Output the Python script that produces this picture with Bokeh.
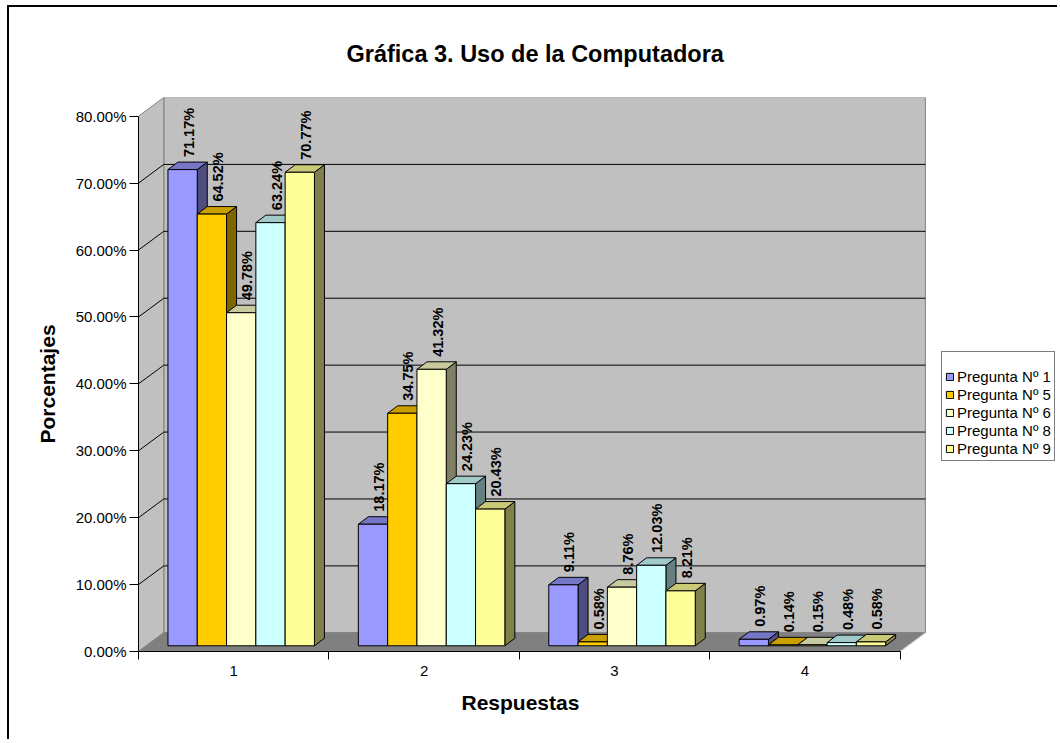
import math
from bokeh.plotting import figure
from bokeh.models import (Range1d, FixedTicker, Legend, LegendItem, ColumnDataSource, Title)
from bokeh.core.properties import value
from bokeh.embed import file_html
from bokeh.resources import INLINE

# ---------------- data ----------------
categories = ["1", "2", "3", "4"]
series_names = ["Pregunta Nº 1", "Pregunta Nº 5", "Pregunta Nº 6", "Pregunta Nº 8", "Pregunta Nº 9"]
p1 = [71.17, 18.17, 9.11, 0.97]
p5 = [64.52, 34.75, 0.58, 0.14]
p6 = [49.78, 41.32, 8.76, 0.15]
p8 = [63.24, 24.23, 12.03, 0.48]
p9 = [70.77, 20.43, 8.21, 0.58]
series_values = [p1, p5, p6, p8, p9]
y_ticks = [0, 10, 20, 30, 40, 50, 60, 70, 80]
y_tick_labels = ["0.00%", "10.00%", "20.00%", "30.00%", "40.00%", "50.00%", "60.00%", "70.00%", "80.00%"]

title_text = "Gráfica 3. Uso de la Computadora"
x_title = "Respuestas"
y_title = "Porcentajes"

# ---------------- style ----------------
front_colors = ["#9999FF", "#FFCC00", "#FFFFCC", "#CCFFFF", "#FFFF99"]
top_colors = ["#7676C6", "#C9A000", "#C9C9A0", "#A0C9C9", "#C9C978"]
side_colors = ["#4D4D80", "#806600", "#808066", "#668080", "#80804D"]
FONT = "Liberation Sans"

PX_X = 190.4      # px per category
PX_Y = 6.6875     # px per percent
DX = 25.3 / PX_X  # wall depth
DY = 18.7 / PX_Y
FX = 7.5 / PX_X   # bar front depth offset
FY = 5.7 / PX_Y
BX = 10.0 / PX_X  # bar depth
BY = 7.5 / PX_Y
W = 29.3 / PX_X   # bar width
NS = len(series_values)
GAP = (1 - NS * W) / 2
NC = len(categories)
YMAX = y_ticks[-1]

CANVAS_W, CANVAS_H = 1050, 734
LEFT, TOP, BOTTOM = 129, 90, 90
FRAME_W = CANVAS_W - LEFT          # frame runs to the right edge (room for legend)
X_END = FRAME_W / PX_X

p = figure(width=CANVAS_W, height=CANVAS_H, output_backend="svg", toolbar_location=None,
           x_range=Range1d(0, X_END), y_range=Range1d(0, YMAX + DY),
           min_border_left=LEFT, min_border_right=0, min_border_top=TOP, min_border_bottom=BOTTOM)
p.styles = {"border-left": "2px solid black", "border-top": "2px solid black",
            "margin-left": "7px", "margin-top": "5px"}
p.background_fill_color = "white"
p.border_fill_color = "white"
p.outline_line_color = None
p.xgrid.visible = False
p.ygrid.visible = False

# title
p.title.text = title_text
p.title.align = "left"
p.title.offset = 208
p.title.text_font = FONT
p.title.text_font_size = "23.5px"
p.title.text_font_style = "bold"
p.title.text_color = "black"
p.title.standoff = 62

# walls and floor
p.patch([DX, NC + DX, NC + DX, DX], [DY, DY, YMAX + DY, YMAX + DY],
        fill_color="#C0C0C0", line_color="#808080", line_width=1)
p.patch([0, 0, DX, DX], [0, YMAX, YMAX + DY, DY],
        fill_color="#C0C0C0", line_color="#808080", line_width=1)
p.patch([0, NC, NC + DX, DX], [0, 0, DY, DY],
        fill_color="#808080", line_color="#808080", line_width=1)
p.line([NC, NC + DX], [0, DY], line_color="#E0E0E0", line_width=1)

# gridlines on walls
grid_vals = [t for t in y_ticks if 0 < t < YMAX]
p.multi_line(xs=[[0, DX, NC + DX] for _ in grid_vals],
             ys=[[t, t + DY, t + DY] for t in grid_vals],
             line_color="black", line_width=1)

# bars
legend_items = []
label_x, label_y, label_t = [], [], []
for s, vals in enumerate(series_values):
    lefts = [c + GAP + s * W + FX for c in range(NC)]
    rights = [l + W for l in lefts]
    bottoms = [FY] * NC
    tops = [v + FY for v in vals]
    side_xs = [[r, r + BX, r + BX, r] for r in rights]
    side_ys = [[b, b + BY, t + BY, t] for b, t in zip(bottoms, tops)]
    top_xs = [[l, r, r + BX, l + BX] for l, r in zip(lefts, rights)]
    top_ys = [[t, t, t + BY, t + BY] for t in tops]
    p.patches(side_xs, side_ys, fill_color=side_colors[s], line_color="black", line_width=1)
    p.patches(top_xs, top_ys, fill_color=top_colors[s], line_color="black", line_width=1)
    src = ColumnDataSource(dict(left=lefts, right=rights, bottom=bottoms, top=tops))
    r = p.quad(left="left", right="right", bottom="bottom", top="top", source=src,
               fill_color=front_colors[s], line_color="black", line_width=1)
    legend_items.append(LegendItem(label=series_names[s], renderers=[r]))
    for l, v in zip(lefts, vals):
        label_x.append(l + W / 2 + 6 / PX_X)
        label_y.append(v + FY + BY + 5 / PX_Y)
        label_t.append(f"{v:.2f}%")

p.text(x=label_x, y=label_y, text=label_t, angle=math.pi / 2,
       text_align="left", text_baseline="middle",
       text_font=value(FONT), text_font_size="14.5px", text_font_style="bold",
       text_color="black")

# axes
xa = p.xaxis[0]
xa.bounds = (0, NC)
xa.ticker = FixedTicker(ticks=[c + 0.5 for c in range(NC)], minor_ticks=list(range(NC + 1)))
xa.major_label_overrides = {c + 0.5: categories[c] for c in range(NC)}
xa.major_tick_out = 0
xa.major_tick_in = 0
xa.minor_tick_out = 8
xa.minor_tick_in = 0
xa.minor_tick_line_color = "black"
xa.axis_line_color = "black"
xa.major_label_standoff = 6
xa.major_label_text_font = FONT
xa.major_label_text_font_size = "15px"
xa.major_label_text_color = "black"

ya = p.yaxis[0]
ya.bounds = (0, YMAX)
ya.ticker = FixedTicker(ticks=y_ticks, minor_ticks=[])
ya.major_label_overrides = {t: lab for t, lab in zip(y_ticks, y_tick_labels)}
ya.major_tick_out = 9
ya.major_tick_in = 0
ya.major_tick_line_color = "black"
ya.axis_line_color = "black"
ya.major_label_standoff = 3
ya.major_label_text_font = FONT
ya.major_label_text_font_size = "15px"
ya.major_label_text_color = "black"

# axis titles (centred on the axis bounds, not the extended frame)
xt = Title(text=x_title, align="left", offset=323, standoff=20,
           text_font=FONT, text_font_size="21px", text_font_style="bold", text_color="black")
p.add_layout(xt, "below")
yt = Title(text=y_title, align="left", offset=208, standoff=27,
           text_font=FONT, text_font_size="21px", text_font_style="bold", text_color="black")
p.add_layout(yt, "left")

legend = Legend(items=legend_items, location=(803, 190))
legend.border_line_color = "black"
legend.border_line_width = 1
legend.background_fill_color = "white"
legend.background_fill_alpha = 1
legend.label_text_font = FONT
legend.label_text_font_size = "15px"
legend.label_text_color = "black"
legend.glyph_width = 9
legend.glyph_height = 9
legend.label_standoff = 3
legend.label_height = 18
legend.spacing = 0
legend.padding = 3
legend.margin = 0
legend.title = "\u00a0"
legend.title_text_font_size = "9px"
legend.title_standoff = 2
p.add_layout(legend, "center")

open("out.html", "w").write(file_html(p, INLINE))
